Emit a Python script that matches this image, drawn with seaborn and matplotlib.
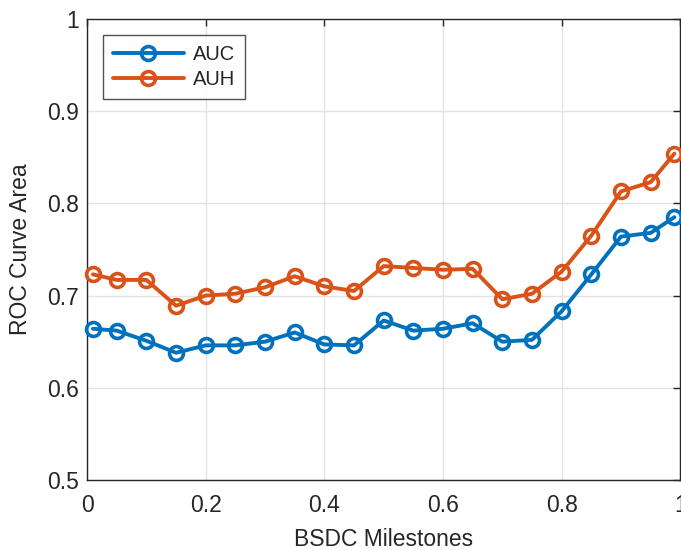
import numpy as np
import pandas as pd
import matplotlib
matplotlib.use("Agg")
import matplotlib.pyplot as plt
import seaborn as sns

milestones = [0.01, 0.05, 0.10, 0.15, 0.20, 0.25, 0.30, 0.35, 0.40, 0.45, 0.50,
              0.55, 0.60, 0.65, 0.70, 0.75, 0.80, 0.85, 0.90, 0.95, 0.99]
auc = [0.664, 0.662, 0.651, 0.638, 0.646, 0.646, 0.650, 0.660, 0.647, 0.646, 0.673,
       0.662, 0.664, 0.670, 0.650, 0.652, 0.683, 0.723, 0.764, 0.768, 0.785]
auh = [0.723, 0.717, 0.717, 0.689, 0.700, 0.702, 0.709, 0.721, 0.710, 0.705, 0.732,
       0.730, 0.728, 0.729, 0.696, 0.702, 0.726, 0.765, 0.813, 0.823, 0.854]

df = pd.DataFrame({"x": milestones, "AUC": auc, "AUH": auh})

sns.set_style("whitegrid")
plt.rcParams['font.family'] = ['Liberation Sans', 'DejaVu Sans']

fig = plt.figure(figsize=(6.81, 5.5), dpi=100)
ax = fig.add_axes([0.1278, 0.1273, 0.8712, 0.8382])

colors = {"AUC": "#0072BD", "AUH": "#D95319"}
for name in ["AUC", "AUH"]:
    sns.lineplot(data=df, x="x", y=name, ax=ax, color=colors[name], label=name,
                 linewidth=2.8, marker="o", markersize=10, mfc="none",
                 mec=colors[name], mew=2.6, clip_on=False, zorder=3)

ax.set_xlim(0, 1)
ax.set_ylim(0.5, 1)
ax.set_xticks([0, 0.2, 0.4, 0.6, 0.8, 1])
ax.set_xticklabels(["0", "0.2", "0.4", "0.6", "0.8", "1"])
ax.set_yticks([0.5, 0.6, 0.7, 0.8, 0.9, 1])
ax.set_yticklabels(["0.5", "0.6", "0.7", "0.8", "0.9", "1"])
ax.grid(True, color="#e3e3e3", linewidth=1)
for s in ax.spines.values():
    s.set_color("#262626")
    s.set_linewidth(1)
ax.tick_params(direction="in", length=5, width=1, color="#262626",
               top=True, right=True, labelsize=16.5, labelcolor="#262626", pad=6)
ax.tick_params(axis="x", pad=10)
ax.set_xlabel("BSDC Milestones", fontsize=16.5, color="#262626")
ax.set_ylabel("ROC Curve Area", fontsize=16.5, color="#262626")
ax.yaxis.set_label_coords(-0.092, 0.5)
ax.xaxis.set_label_coords(0.5, -0.105)

leg = ax.legend(loc="upper left", bbox_to_anchor=(0.027, 0.965), fontsize=14.5,
                frameon=True, fancybox=False, edgecolor="#262626",
                handlelength=3.5, handletextpad=0.45, borderpad=0.5,
                labelspacing=0.3, borderaxespad=0)
leg.get_frame().set_linewidth(1)

fig.savefig("out.png", dpi=100)
